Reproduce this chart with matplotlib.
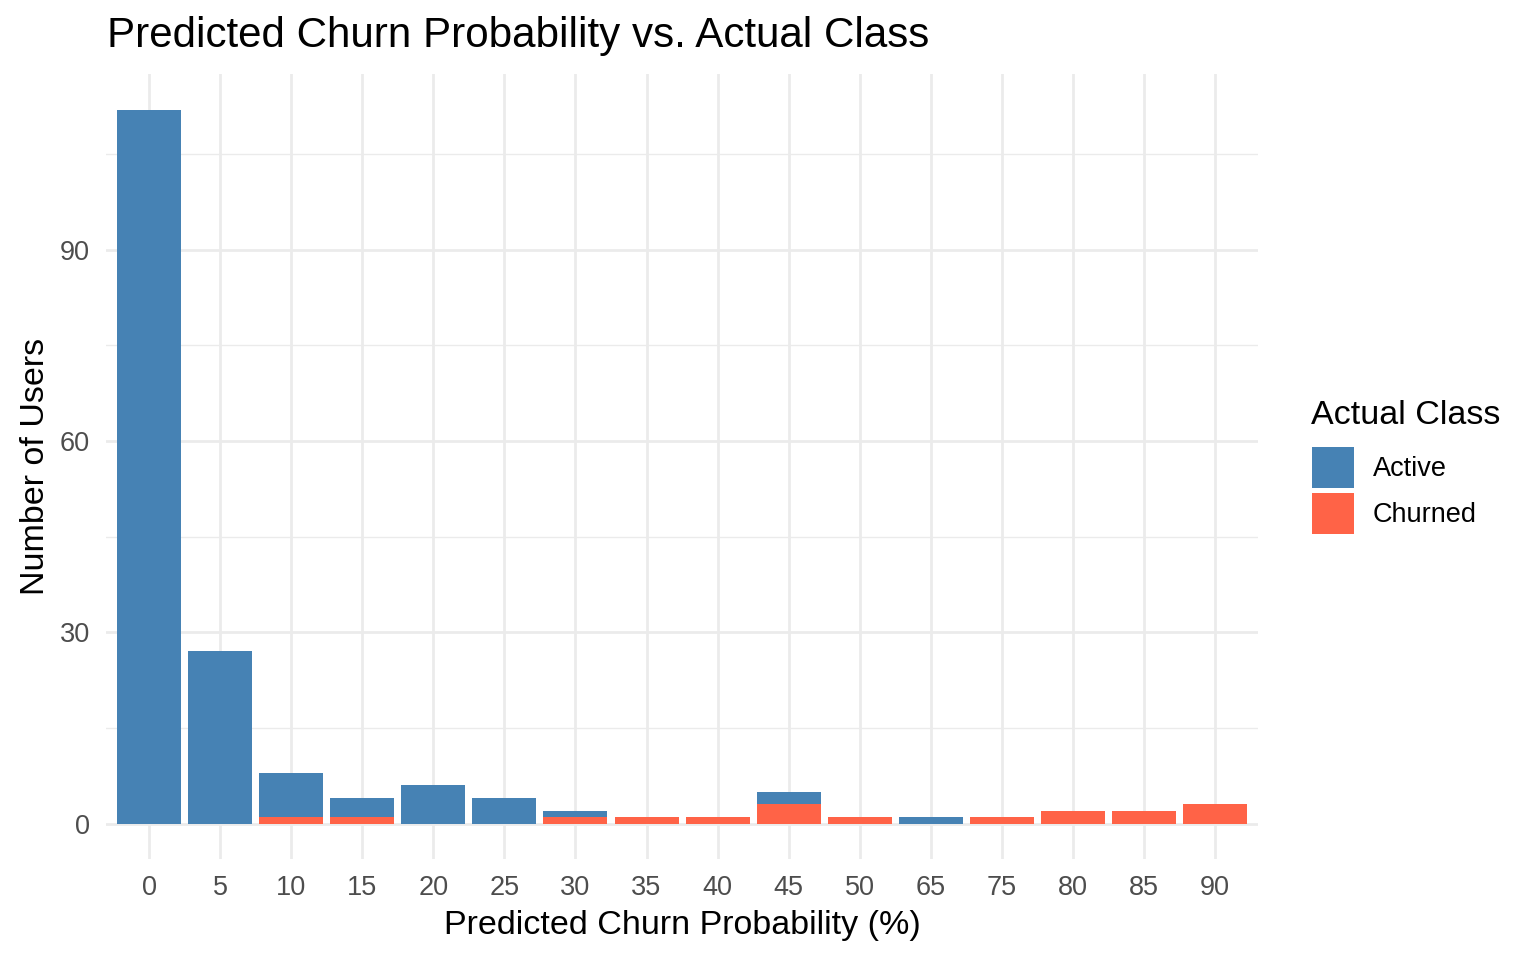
import matplotlib
matplotlib.use("Agg")
import matplotlib.pyplot as plt
import numpy as np
from matplotlib.patches import Patch

plt.rcParams['font.family'] = ['Liberation Sans', 'DejaVu Sans']

categories = ["0", "5", "10", "15", "20", "25", "30", "35", "40", "45", "50", "65", "75", "80", "85", "90"]
churned = [0, 0, 1, 1, 0, 0, 1, 1, 1, 3, 1, 0, 1, 2, 2, 3]
active = [112, 27, 7, 3, 6, 4, 1, 0, 0, 2, 0, 1, 0, 0, 0, 0]
yticks = [0, 30, 60, 90]
yminor = [15, 45, 75, 105]

c_active = "#4682B4"
c_churn = "#FF6347"

W, H = 1536, 960
fig = plt.figure(figsize=(15.36, 9.6), dpi=100)
ax = fig.add_axes([0.0693, 0.105, 0.8188 - 0.0693, 0.923 - 0.105])

x = np.arange(len(categories))
ax.bar(x, churned, width=0.9, color=c_churn, zorder=3)
ax.bar(x, active, width=0.9, bottom=churned, color=c_active, zorder=3)

total_max = max(a + c for a, c in zip(active, churned))
ax.set_xlim(-0.6, len(categories) - 1 + 0.6)
ax.set_ylim(-0.05 * total_max, total_max * 1.05)

ax.set_xticks(x)
ax.set_xticklabels(categories)
ax.set_yticks(yticks)
ax.set_yticks(yminor, minor=True)
ax.grid(True, which='major', axis='both', color='#EBEBEB', linewidth=2.0, zorder=0)
ax.grid(True, which='minor', axis='y', color='#EBEBEB', linewidth=1.0, zorder=0)
ax.tick_params(axis='both', which='both', length=0, labelsize=19.5, labelcolor='#4D4D4D')
ax.tick_params(axis='x', pad=11.5)
ax.tick_params(axis='y', pad=12)
for s in ax.spines.values():
    s.set_visible(False)

ax.set_xlabel("Predicted Churn Probability (%)", fontsize=24.5, labelpad=6)
ax.set_ylabel("Number of Users", fontsize=24.5, labelpad=6)
fig.text(107 / W, 1 - 36 / H, "Predicted Churn Probability vs. Actual Class",
         fontsize=30.3, ha='left', va='center')

# legend
fig.text(1311 / W, 1 - 424 / H, "Actual Class", fontsize=24.5, ha='left', va='baseline')
handles = [Patch(facecolor=c_active, label="Active"), Patch(facecolor=c_churn, label="Churned")]
leg = fig.legend(handles=handles, loc='upper left',
                 bbox_to_anchor=(1312 / W, 1 - 447 / H), frameon=False,
                 fontsize=19.5, handlelength=1.55, handleheight=1.95,
                 handletextpad=0.7, labelspacing=0.18, borderaxespad=0, borderpad=0)

fig.savefig("out.png", dpi=100)
